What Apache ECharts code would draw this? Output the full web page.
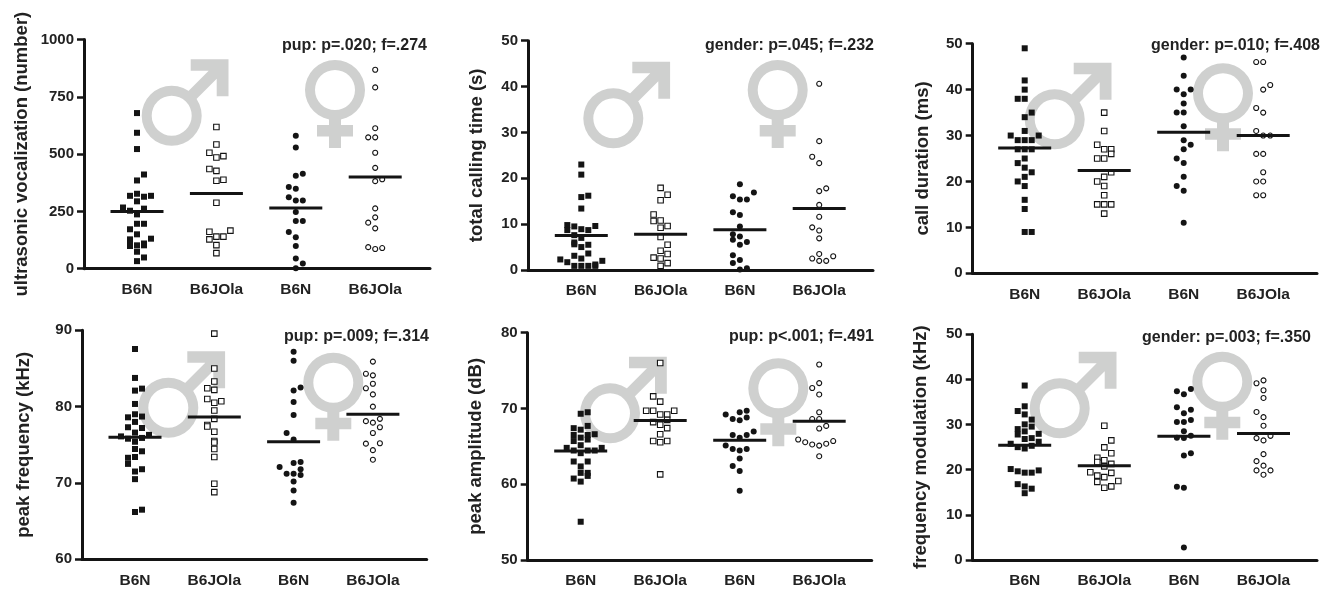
<!DOCTYPE html>
<html><head><meta charset="utf-8">
<style>html,body{margin:0;padding:0;background:#fff}#c{width:1333px;height:589px}</style>
<script src="https://cdn.jsdelivr.net/npm/echarts@6/dist/echarts.min.js"></script>
</head><body><div id="c"></div>
<script>
// Each point: [value, swarm column]
const categories = ['B6N','B6JOla','B6N','B6JOla'];
const yTitles = ['ultrasonic vocalization (number)','total calling time (s)','call duration (ms)','peak frequency (kHz)','peak amplitude (dB)','frequency modulation (kHz)'];
const statLabels = ['pup: p=.020; f=.274','gender: p=.045; f=.232','gender: p=.010; f=.408','pup: p=.009; f=.314','pup: p<.001; f=.491','gender: p=.003; f=.350'];

const usvMaleB6N=[[679,0],[593,0],[522,0],[411,1],[385,0],[327,0],[318,-1],[314,1],[318,2],[294,0],[267,-2],[262,1],[253,-1],[237,0],[196,0],[196,1],[172,-1],[150,0],[128,-1],[131,2],[110,-1],[99,-1],[102,0],[102,1],[110,1],[74,0],[49,1],[33,0]];
const usvMaleJOla=[[618,0],[542,0],[506,-1],[485,0],[491,1],[435,-1],[427,0],[384,0],[388,1],[288,0],[161,-1],[166,2],[140,0],[140,1],[128,-1],[103,0],[68,0]];
const usvFemaleB6N=[[580,0],[529,0],[405,0],[414,1],[356,-1],[349,0],[312,-1],[298,0],[298,1],[247,0],[208,0],[208,1],[160,-1],[137,0],[99,0],[45,0],[23,1],[2,0]];
const usvFemaleJOla=[[868,0],[791,0],[613,0],[573,-1],[573,0],[506,0],[440,0],[382,0],[390,1],[263,0],[224,0],[201,-1],[176,0],[94,-1],[86,0],[90,1]];

const timeMaleB6N=[[23,0],[20.8,0],[15.9,0],[16.2,1],[13.4,0],[9.8,-2],[9.5,-1],[9.6,2],[8.7,-2],[8.9,0],[8.7,1],[7.6,-1],[7,0],[6,-1],[5.6,-1],[5.5,1],[5,0],[3.6,1],[3.1,-1],[2.5,0],[2.3,-3],[1.7,-2],[2,3],[1.2,2],[0.9,-1],[0.9,0],[0.9,1],[0.9,2]];
const timeMaleJOla=[[17.9,0],[16.4,1],[15.2,0],[12.1,-1],[10.7,-1],[10.8,0],[9.6,1],[9.2,0],[7.2,0],[5.5,1],[4.2,0],[3.5,1],[2.7,-1],[2.5,0],[1.5,1],[0.9,0]];
const timeFemaleB6N=[[18.7,0],[16.9,2],[16.1,-1],[15.4,0],[15.4,1],[12.6,-1],[12,0],[9.5,0],[7.8,-1],[7.3,0],[6.6,-1],[6.1,1],[5.5,0],[3.2,-1],[2.2,0],[1.5,-1],[0.4,1],[0.1,0]];
const timeFemaleJOla=[[40.6,0],[28.1,0],[24.7,-1],[23.3,0],[17.8,1],[17.2,0],[14.2,0],[11.6,0],[9.3,-1],[8.6,0],[6.9,0],[3.5,0],[3,2],[2.5,-1],[2,0],[2,1]];

const durMaleB6N=[[49,0],[42,0],[40,0],[38,-1],[38,0],[35,1],[34,0],[31,0],[30,-2],[30,2],[29,-1],[29,0],[29,1],[27,-1],[27,0],[27,1],[25,0],[24,-1],[23,0],[22,1],[21,0],[20,-1],[19,0],[16,0],[14,0],[9,0],[9,1]];
const durMaleJOla=[[35,0],[31,0],[28,-1],[27,0],[27,1],[26,1],[25,-1],[25,0],[22,1],[21,0],[20,-1],[19,0],[17,0],[15,-1],[15,0],[15,1],[13,0]];
const durFemaleB6N=[[47,0],[43,0],[40,-1],[40,1],[39,0],[37,0],[35,-1],[35,0],[32,0],[29,0],[28,1],[27,0],[25,-1],[24,0],[21,0],[19,-1],[18,0],[11,0]];
const durFemaleJOla=[[46,-1],[46,0],[41,1],[40,0],[36,-1],[35,0],[31,-1],[30,0],[30,1],[26,-1],[26,0],[22,0],[20,-1],[20,0],[17,-1],[17,0]];

const freqMaleB6N=[[87.55,0],[83.76,0],[82.1,0],[82.36,1],[80.35,0],[79,0],[78.6,-1],[78.7,1],[78,0],[77.3,-1],[77.2,1],[76.6,0],[76.3,2],[76.1,-2],[75.8,-1],[75.9,1],[75.4,0],[74.45,0],[74.15,1],[73.3,-1],[73.4,0],[72.5,-1],[71.8,1],[71.5,0],[70.5,0],[66.5,1],[66.2,0]];
const freqMaleJOla=[[89.56,0],[85,0],[83.3,0],[82.4,-1],[82.2,0],[81,-1],[80.7,1],[80.5,0],[79.5,0],[78.4,0],[77.6,-1],[77.4,-1],[76.7,0],[75.5,0],[75.3,0],[74.45,0],[73.4,0],[69.9,0],[68.8,0]];
const freqFemaleB6N=[[87.2,0],[86,0],[82.5,1],[82.1,0],[80.6,0],[78.9,0],[76.55,-1],[75.7,0],[72.6,0],[72.75,1],[72.1,-2],[71.8,1],[71.2,-1],[71.2,0],[71.05,1],[70.2,0],[69,0],[67.4,0]];
const freqFemaleJOla=[[85.9,0],[84.3,-1],[84.1,0],[83,0],[82.4,-1],[81.6,0],[80,0],[78.1,-1],[77.9,0],[78.4,1],[77.3,1],[76.55,0],[75.15,-1],[75.2,1],[74.3,0],[73.05,0]];

const ampMaleB6N=[[69.5,1],[69.3,0],[67.7,1],[67.4,-1],[67.2,0],[66.6,2],[66.5,-1],[66.5,1],[66.15,0],[65.9,1],[65.7,-1],[65.15,0],[64.8,-2],[64.8,3],[64.45,-1],[64.45,1],[64.45,2],[64.1,0],[63,-1],[63,1],[62.35,0],[61.5,0],[61.5,1],[61.1,1],[60.75,-1],[60.35,0],[55.05,0]];
const ampMaleJOla=[[76,0],[71.6,-1],[70.9,0],[69.7,-2],[69.7,-1],[69.7,2],[69.2,0],[69.2,1],[68.5,1],[68.2,-1],[67.85,0],[67.4,1],[66.6,0],[65.7,-1],[65.7,1],[65.55,0],[61.3,0]];
const ampFemaleB6N=[[69.7,1],[69.5,0],[69.2,-2],[68.8,1],[68.6,-1],[68.45,0],[66.95,2],[66.5,1],[66.5,-1],[66.15,0],[65.1,-2],[64.65,-1],[64.65,1],[64.45,0],[63.4,0],[62.4,-1],[61.75,0],[59.15,0]];
const ampFemaleJOla=[[75.8,0],[73.35,0],[72.7,-1],[71.85,0],[69.5,0],[68.6,-1],[68.6,0],[67.7,1],[67.35,0],[65.9,-3],[65.55,-2],[65.25,-1],[65.1,0],[65.35,1],[65.7,2],[63.7,0]];

const fmMaleB6N=[[38.65,0],[34.05,0],[33,-1],[32.25,0],[31.1,1],[30.05,0],[29,-1],[29.55,1],[28.5,0],[27.8,-1],[27.95,2],[27,1],[26.8,0],[26.2,2],[25.75,-2],[25.3,1],[25,-1],[24.7,0],[20.15,-2],[19.65,-1],[19.35,0],[19.35,1],[19.85,2],[16.8,-1],[16.3,0],[15.8,1],[14.8,0]];
const fmMaleJOla=[[29.75,0],[26.5,1],[24.95,0],[23.65,1],[22.65,-1],[22.1,0],[21.7,-1],[21.3,1],[20.75,0],[19.3,1],[19.45,-2],[18.7,-1],[18.35,0],[17.5,2],[17.3,-1],[16.3,1],[16,0]];
const fmFemaleB6N=[[37.9,1],[37.4,-1],[36.7,0],[33.85,-1],[33.3,1],[32.5,0],[31,1],[30.55,-1],[30.55,0],[28.5,0],[27.1,-1],[27,0],[27.5,1],[23.65,1],[23.15,0],[16.2,-1],[16,0],[2.75,0]];
const fmFemaleJOla=[[39.8,0],[39.15,-1],[37.6,0],[35.9,0],[32.8,-1],[31.65,0],[29.75,0],[27.5,1],[27,-1],[26.5,0],[23.45,0],[21.9,-1],[20.9,0],[19.85,-1],[19.85,1],[18.9,0]];

const groupsByPanel=[
 [usvMaleB6N,usvMaleJOla,usvFemaleB6N,usvFemaleJOla],
 [timeMaleB6N,timeMaleJOla,timeFemaleB6N,timeFemaleJOla],
 [durMaleB6N,durMaleJOla,durFemaleB6N,durFemaleJOla],
 [freqMaleB6N,freqMaleJOla,freqFemaleB6N,freqFemaleJOla],
 [ampMaleB6N,ampMaleJOla,ampFemaleB6N,ampFemaleJOla],
 [fmMaleB6N,fmMaleJOla,fmFemaleB6N,fmFemaleJOla]];
const meansByPanel=[[250,328,265,400],[7.5,7.8,8.8,13.4],[27.3,22.4,30.7,30],[76,78.65,75.4,79],[64.4,68.4,65.8,68.3],[25.4,20.9,27.4,28]];
const yRanges=[[0,1000,250],[0,50,10],[0,50,10],[60,90,10],[50,80,10],[0,50,10]];

// Layout in page pixels, kept apart from the data
const L=[
 {l:84,r:430,t:39.5,b:268.7,c1:137,s:79.4,mc:[171.7,115.7],fc:[335,90],statR:427,statY:46},
 {l:528,r:873,t:40.7,b:270,c1:581.3,s:79.3,mc:[613.3,118.3],fc:[777.7,90],statR:874,statY:45.5},
 {l:972.7,r:1317,t:43.7,b:273.3,c1:1024.7,s:79.5,mc:[1054.7,119.3],fc:[1223,93.3],statR:1320,statY:45.5},
 {l:82,r:426.7,t:330.3,b:559.3,c1:135,s:79.3,mc:[168.3,407.7],fc:[333.3,382.7],statR:429,statY:337},
 {l:527.7,r:871.7,t:332.7,b:562.3,c1:580.7,s:79.5,mc:[610,413.3],fc:[778.3,388.3],statR:874,statY:337},
 {l:972.7,r:1317,t:334.3,b:563.3,c1:1024.7,s:79.6,mc:[1059.7,408.3],fc:[1222.3,381.7],statR:1311,statY:337.5}];
const yTitleGap=[53,42,40.5,49,42,42.5];
const INK='#141414', GHOST='#cfd0cf', STEP=7, FONT='"Liberation Sans",Arial,sans-serif';

const grid=[],xAxis=[],yAxis=[],series=[],title=[],graphic=[];
L.forEach((p,i)=>{
  grid.push({left:p.l,top:p.t,width:p.r-p.l,height:p.b-p.t,containLabel:false});
  xAxis.push({gridIndex:i,type:'value',min:1-(p.c1-p.l)/p.s,max:1+(p.r-p.c1)/p.s,splitLine:{show:false},
    axisLine:{show:true,onZero:false,lineStyle:{color:INK,width:3}},axisTick:{show:false},
    axisLabel:{customValues:[1,2,3,4],formatter:v=>categories[Math.round(v)-1],color:'#222',fontFamily:FONT,fontWeight:'bold',fontSize:15.5,margin:13,showMinLabel:true,showMaxLabel:true}});
  const R=yRanges[i];
  yAxis.push({gridIndex:i,type:'value',min:R[0],max:R[1],interval:R[2],splitLine:{show:false},
    axisLine:{show:true,lineStyle:{color:INK,width:3}},axisTick:{show:true,length:7,lineStyle:{color:INK,width:2.5}},
    axisLabel:{color:'#222',fontFamily:FONT,fontWeight:'bold',fontSize:15,margin:10,formatter:v=>String(v)},
    name:yTitles[i],nameLocation:'middle',nameRotate:90,nameGap:yTitleGap[i],
    nameTextStyle:{color:'#222',fontFamily:FONT,fontWeight:'bold',fontSize:18.5}});
  groupsByPanel[i].forEach((pts,g)=>{
    const square=g<2, filled=g%2===0;
    series.push({type:'scatter',xAxisIndex:i,yAxisIndex:i,clip:false,silent:true,animation:false,z:3,
      name:categories[g],symbol:square?'rect':'circle',symbolSize:filled?6:(square?5.5:5),
      itemStyle:{color:filled?INK:'#fff',borderColor:INK,borderWidth:filled?0:1.1,opacity:1},
      data:pts.map(d=>[g+1+d[1]*STEP/p.s,d[0]])});
  });
  series.push({type:'scatter',xAxisIndex:i,yAxisIndex:i,clip:false,silent:true,animation:false,z:4,name:'mean',
    symbol:'rect',symbolSize:[53,3],itemStyle:{color:INK,opacity:1},
    data:meansByPanel[i].map((m,g)=>[g+1,m])});
  title.push({text:statLabels[i],left:p.statR,top:p.statY-8,textAlign:'right',
    textStyle:{color:'#222',fontFamily:FONT,fontWeight:'bold',fontSize:16,lineHeight:16},padding:0});
  // gender symbols
  const [mx,my]=p.mc,[fx,fy]=p.fc;
  const sty={fill:GHOST};
  graphic.push({type:'ring',silent:true,z:0,shape:{cx:mx,cy:my,r:30,r0:20},style:sty});
  graphic.push({type:'polygon',silent:true,z:0,shape:{points:[[mx+19,my-56.5],[mx+56.8,my-56.5],[mx+56.8,my-19.5],[mx+45,my-19.5],[mx+45,my-37],[mx+24,my-16],[mx+16,my-24],[mx+37,my-45],[mx+19,my-45]]},style:sty});
  graphic.push({type:'ring',silent:true,z:0,shape:{cx:fx,cy:fy,r:30,r0:20},style:sty});
  graphic.push({type:'polygon',silent:true,z:0,shape:{points:[[fx-6,fy+28],[fx+6,fy+28],[fx+6,fy+35],[fx+18,fy+35],[fx+18,fy+46.5],[fx+6,fy+46.5],[fx+6,fy+58],[fx-6,fy+58],[fx-6,fy+46.5],[fx-18,fy+46.5],[fx-18,fy+35],[fx-6,fy+35]]},style:sty});
});
const chart=echarts.init(document.getElementById('c'),null,{renderer:'canvas'});
chart.setOption({animation:false,backgroundColor:'#fff',title,grid,xAxis,yAxis,series,graphic});
</script></body></html>
